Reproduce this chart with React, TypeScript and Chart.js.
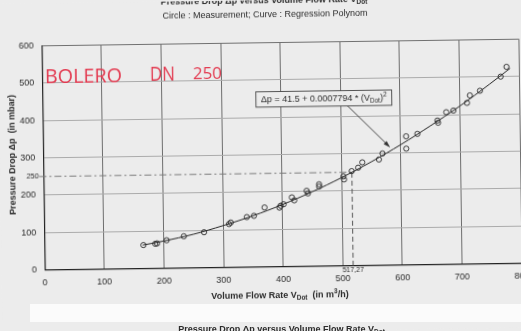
import React, { useEffect, useRef } from "react";
import { Chart, registerables } from "chart.js";

Chart.register(...registerables);

// ---- data ----
const flowTicks = [0, 100, 200, 300, 400, 500, 600, 700, 800];
const dropTicks = [0, 100, 200, 300, 400, 500, 600];

const measuredFlow = [166, 186, 189, 205, 234, 268, 310, 313, 340, 352, 370, 395, 397, 402, 416, 420, 441, 443, 462, 462, 503, 504, 517, 528, 535, 563, 569, 609, 609, 628, 662, 663, 677, 689, 712, 717, 734, 769, 779];
const measuredDrop = [63, 66, 67, 75, 85, 95, 116, 120, 134, 137, 159, 158, 163, 167, 185, 177, 202, 195, 219, 213, 239, 231, 253, 262, 276, 283, 299, 344, 311, 350, 385, 379, 407, 411, 431, 451, 463, 500, 526];

const curveFlow = [165, 200, 250, 300, 350, 400, 450, 500, 550, 600, 650, 700, 750, 785];
const curveDrop = [63, 73, 90, 112, 137, 166, 199, 236, 277, 322, 371, 423, 480, 522];

const markFlow = 517.27;
const markDrop = 250;
const markFlowLabel = "517,27";
const markDropLabel = "250";

const formulaAnchor = [472, 448]; // flow, drop (centre of formula box)
const arrowTail = [512, 427];
const arrowTip = [582, 315];

const titleText = "Pressure Drop \u0394p versus Volume Flow Rate V";
const subtitleText = "Circle : Measurement; Curve : Regression Polynom";
const xTitleText = "Volume Flow Rate V";
const yTitleText = "Pressure Drop \u0394p  (in mbar)";
const formulaText = "\u0394p = 41.5 + 0.0007794 * (V";
const subDot = "Dot";
const handNote = ["BOLERO", "DN", "250"];

// ---- styles ----
const PAPER = "#ececec";
const INK = "#262626";
const TEXT = "#2c2c2c";
const RED = "#e33a50";
const FAM = '"Liberation Sans", Arial, sans-serif';

type Part = { t: string; size: number; dy?: number };

function drawRich(ctx: CanvasRenderingContext2D, parts: Part[], cx: number, baseline: number, weight: string) {
  const widths = parts.map((p) => {
    ctx.font = `${weight} ${p.size}px ${FAM}`;
    return ctx.measureText(p.t).width;
  });
  const total = widths.reduce((a, b) => a + b, 0);
  let x = cx - total / 2;
  ctx.textAlign = "left";
  ctx.textBaseline = "alphabetic";
  parts.forEach((p, i) => {
    ctx.font = `${weight} ${p.size}px ${FAM}`;
    ctx.fillText(p.t, x, baseline + (p.dy || 0));
    x += widths[i];
  });
  return total;
}

function drawFit(ctx: CanvasRenderingContext2D, text: string, x: number, baseline: number, w: number, font: string) {
  ctx.font = font;
  const m = ctx.measureText(text).width;
  ctx.save();
  ctx.translate(x, baseline);
  ctx.scale(w / m, 1);
  ctx.textAlign = "left";
  ctx.textBaseline = "alphabetic";
  ctx.fillText(text, 0, 0);
  ctx.restore();
}

const decor = {
  id: "decor",
  beforeDraw(chart: any) {
    const { ctx, width, height } = chart;
    ctx.save();
    ctx.fillStyle = PAPER;
    ctx.fillRect(0, 0, width, height);
    ctx.restore();
  },
  beforeDatasetsDraw(chart: any) {
    const { ctx, scales, chartArea } = chart;
    const x = scales.x;
    const y = scales.y;
    const mx = x.getPixelForValue(markFlow);
    const my = y.getPixelForValue(markDrop);
    const y0 = y.getPixelForValue(0);
    ctx.save();
    ctx.lineWidth = 1;
    ctx.strokeStyle = "#7a7a7a";
    ctx.setLineDash([7, 3, 2, 3]);
    ctx.beginPath();
    ctx.moveTo(chartArea.left - 4, my);
    ctx.lineTo(mx, my);
    ctx.stroke();
    ctx.strokeStyle = "#555";
    ctx.setLineDash([5, 3]);
    ctx.beginPath();
    ctx.moveTo(mx, y0);
    ctx.lineTo(mx, my);
    ctx.stroke();
    ctx.restore();
  },
  afterDraw(chart: any) {
    const { ctx, scales, chartArea } = chart;
    const x = scales.x;
    const y = scales.y;
    ctx.save();
    ctx.fillStyle = TEXT;

    // titles
    drawRich(ctx, [{ t: titleText, size: 9 }, { t: subDot, size: 6.5, dy: 2 }], 266, 2.5, "bold");
    drawRich(ctx, [{ t: subtitleText, size: 9 }], 267, 17, "normal");

    // x title
    drawRich(
      ctx,
      [
        { t: xTitleText, size: 9 },
        { t: subDot, size: 6.5, dy: 2 },
        { t: "  (in m", size: 9 },
        { t: "3", size: 6.5, dy: -3.5 },
        { t: "/h)", size: 9 },
      ],
      278,
      297.5,
      "bold"
    );

    // y title
    ctx.save();
    ctx.translate(11.7, 151);
    ctx.rotate(-Math.PI / 2);
    drawRich(ctx, [{ t: yTitleText, size: 9 }], 0, 3.2, "bold");
    ctx.restore();

    // special marks
    const mx = x.getPixelForValue(markFlow);
    const my = y.getPixelForValue(markDrop);
    ctx.font = `normal 7.5px ${FAM}`;
    ctx.textAlign = "right";
    ctx.textBaseline = "middle";
    ctx.fillText(markDropLabel, chartArea.left - 4.5, my);
    ctx.font = `normal 7px ${FAM}`;
    ctx.textAlign = "center";
    ctx.fillText(markFlowLabel, mx, chartArea.bottom + 4.8);

    // formula box
    const fx = x.getPixelForValue(formulaAnchor[0]);
    const fy = y.getPixelForValue(formulaAnchor[1]);
    const parts: Part[] = [
      { t: formulaText, size: 9 },
      { t: subDot, size: 6.5, dy: 2 },
      { t: ")", size: 9 },
      { t: "2", size: 6.5, dy: -4 },
    ];
    let tw = 0;
    parts.forEach((p) => {
      ctx.font = `normal ${p.size}px ${FAM}`;
      tw += ctx.measureText(p.t).width;
    });
    const bw = tw + 10;
    const bh = 15.4;
    ctx.fillStyle = PAPER;
    ctx.fillRect(fx - bw / 2, fy - bh / 2, bw, bh);
    ctx.strokeStyle = "#444";
    ctx.lineWidth = 0.9;
    ctx.strokeRect(fx - bw / 2, fy - bh / 2, bw, bh);
    ctx.fillStyle = TEXT;
    drawRich(ctx, parts, fx, fy + 3.3, "normal");

    // arrow
    const ax0 = x.getPixelForValue(arrowTail[0]);
    const ay0 = y.getPixelForValue(arrowTail[1]);
    const ax1 = x.getPixelForValue(arrowTip[0]);
    const ay1 = y.getPixelForValue(arrowTip[1]);
    const ang = Math.atan2(ay1 - ay0, ax1 - ax0);
    ctx.strokeStyle = "#333";
    ctx.lineWidth = 0.9;
    ctx.beginPath();
    ctx.moveTo(ax0, ay0);
    ctx.lineTo(ax1 - Math.cos(ang) * 5, ay1 - Math.sin(ang) * 5);
    ctx.stroke();
    ctx.fillStyle = "#333";
    ctx.beginPath();
    ctx.moveTo(ax1, ay1);
    ctx.lineTo(ax1 - Math.cos(ang) * 7 + Math.sin(ang) * 2.2, ay1 - Math.sin(ang) * 7 - Math.cos(ang) * 2.2);
    ctx.lineTo(ax1 - Math.cos(ang) * 7 - Math.sin(ang) * 2.2, ay1 - Math.sin(ang) * 7 + Math.cos(ang) * 2.2);
    ctx.closePath();
    ctx.fill();

    // handwritten note
    ctx.fillStyle = RED;
    drawFit(ctx, handNote[0], 46, 79.5, 77, `normal 20px "Open Sans", sans-serif`);
    drawFit(ctx, handNote[1], 151, 78.5, 25, `normal 20px "Open Sans", sans-serif`);
    drawFit(ctx, handNote[2], 194, 78, 29, `normal 17px "Open Sans", sans-serif`);

    ctx.restore();
  },
};

export default function App() {
  const ref = useRef<HTMLCanvasElement>(null);

  useEffect(() => {
    document.body.style.margin = "0";
    document.body.style.background = PAPER;
    document.documentElement.style.background = PAPER;
    const canvas = ref.current!;
    const chart = new Chart(canvas, {
      type: "scatter",
      data: {
        datasets: [
          {
            label: "Regression Polynom",
            data: curveFlow.map((v, i) => ({ x: v, y: curveDrop[i] })),
            showLine: true,
            borderColor: INK,
            borderWidth: 1,
            pointRadius: 0,
            tension: 0.35,
            fill: false,
          } as any,
          {
            label: "Measurement",
            data: measuredFlow.map((v, i) => ({ x: v, y: measuredDrop[i] })),
            showLine: false,
            pointRadius: 2.6,
            pointBorderWidth: 0.9,
            pointBorderColor: INK,
            pointBackgroundColor: "rgba(0,0,0,0)",
            borderColor: INK,
            backgroundColor: "rgba(0,0,0,0)",
          } as any,
        ],
      },
      options: {
        animation: false,
        responsive: false,
        devicePixelRatio: 1,
        events: [],
        layout: { padding: { top: 42.3, right: 39.8, bottom: 0, left: 0 } },
        plugins: {
          legend: { display: false },
          tooltip: { enabled: false },
          title: { display: false },
        },
        scales: {
          x: {
            type: "linear",
            min: flowTicks[0],
            max: flowTicks[flowTicks.length - 1],
            afterBuildTicks: (s: any) => {
              s.ticks = flowTicks.map((v) => ({ value: v }));
            },
            afterFit: (s: any) => {
              s.height = 64.3;
            },
            grid: { color: "#6e6e6e", lineWidth: 1, drawTicks: false },
            border: { color: "#222", width: 1.2 },
            ticks: {
              padding: 7,
              color: TEXT,
              font: { family: FAM, size: 9 },
              maxRotation: 0,
              autoSkip: false,
            },
          },
          y: {
            type: "linear",
            min: dropTicks[0],
            max: dropTicks[dropTicks.length - 1],
            afterBuildTicks: (s: any) => {
              s.ticks = dropTicks.map((v) => ({ value: v }));
            },
            afterFit: (s: any) => {
              s.width = 43.2;
            },
            grid: {
              color: (c: any) => (c.tick && c.tick.value === 600 ? "#707070" : "#ababab"),
              lineWidth: 1,
              drawTicks: false,
            },
            border: { color: "#222", width: 1.2 },
            ticks: {
              padding: 8,
              color: TEXT,
              font: { family: FAM, size: 9 },
              autoSkip: false,
            },
          },
        },
      } as any,
      plugins: [decor as any],
    });
    return () => chart.destroy();
  }, []);

  return (
    <>
      <div
        style={{
          position: "fixed",
          left: 0,
          top: 0,
          width: 560,
          height: 331,
          transform: "rotate(-0.8deg)",
          transformOrigin: "281.7px 154.5px",
        }}
      >
        <canvas ref={ref} width={560} height={331} style={{ display: "block", width: 560, height: 331 }} />
      </div>
      <div
        style={{
          position: "fixed",
          left: 30,
          top: 304,
          width: 491,
          height: 18,
          background: "#fbfbfb",
        }}
      />
      <div
        style={{
          position: "fixed",
          left: 0,
          top: 323,
          width: 563,
          textAlign: "center",
          fontFamily: FAM,
          fontWeight: "bold",
          fontSize: 9,
          lineHeight: "12px",
          color: TEXT,
          whiteSpace: "nowrap",
        }}
      >
        {titleText}
        <span style={{ fontSize: 6.5, position: "relative", top: 2 }}>{subDot}</span>
      </div>
    </>
  );
}
